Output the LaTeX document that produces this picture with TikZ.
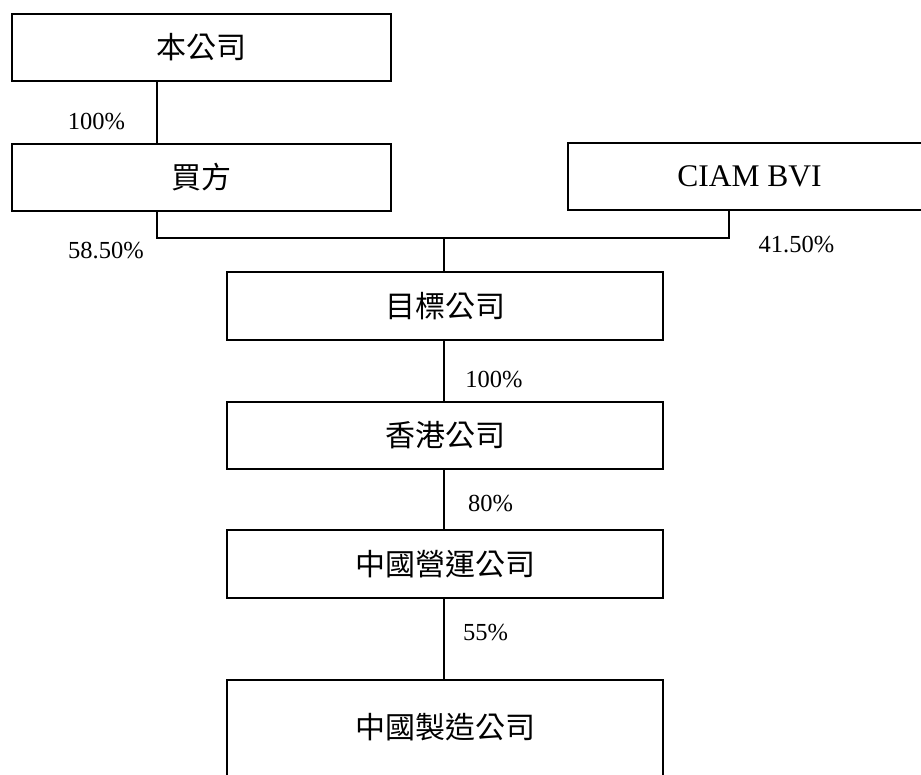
\documentclass[tikz,border=0pt]{standalone}
\usepackage{fontspec}
\setmainfont{Liberation Serif}
\newfontfamily\cjk{Noto Sans CJK TC}
\begin{document}
\begin{tikzpicture}[x=1pt,y=-1pt,
  box/.style={draw=black,line width=2pt,rectangle,inner sep=0pt,fill=white},
  cjktxt/.style={font=\cjk\fontsize{30}{34}\selectfont,inner sep=0pt},
  pct/.style={font=\fontsize{24.5}{28}\selectfont,inner sep=0pt,anchor=base},
  conn/.style={line width=1.7pt,draw=black}]
\clip (0,0) rectangle (921,775);
% boxes
\node[box,minimum width=379pt,minimum height=67pt,cjktxt] (top) at (201.5,47.5) {本公司};
\node[box,minimum width=379pt,minimum height=67pt,cjktxt] (buyer) at (201.5,177.5) {買方};
\node[box,minimum width=363pt,minimum height=67pt,font=\fontsize{31.5}{36}\selectfont] (ciam) at (749.5,176.5) {CIAM BVI};
\node[box,minimum width=436pt,minimum height=68pt,cjktxt] (target) at (445,306) {目標公司};
\node[box,minimum width=436pt,minimum height=67pt,cjktxt] (hk) at (445,435.5) {香港公司};
\node[box,minimum width=436pt,minimum height=68pt,cjktxt] (op) at (445,564) {中國營運公司};
\node[box,minimum width=436pt,minimum height=130pt] (mfg) at (445,745) {};
\node[cjktxt] (mfgt) at (445,727) {中國製造公司};
% connectors
\coordinate (bus) at (444,238);
\draw[conn] ([xshift=146pt]top.south west) -- ([xshift=146pt]buyer.north west);
\draw[conn] ([xshift=146pt]buyer.south west) |- (bus) -| ([xshift=162pt]ciam.south west);
\draw[conn] (bus) -- (bus |- target.north);
\draw[conn] (target.south -| bus) -- (hk.north -| bus);
\draw[conn] (hk.south -| bus) -- (op.north -| bus);
\draw[conn] (op.south -| bus) -- (mfg.north -| bus);
% labels
\node[pct] (l1) at (96.5,130) {100\%};
\node[pct] (l2) at (106,259) {58.50\%};
\node[pct] (l3) at (796.5,252.5) {41.50\%};
\node[pct] (l4) at (494,388) {100\%};
\node[pct] (l5) at (490.5,511.7) {80\%};
\node[pct] (l6) at (485.5,640.7) {55\%};
\end{tikzpicture}
\end{document}
